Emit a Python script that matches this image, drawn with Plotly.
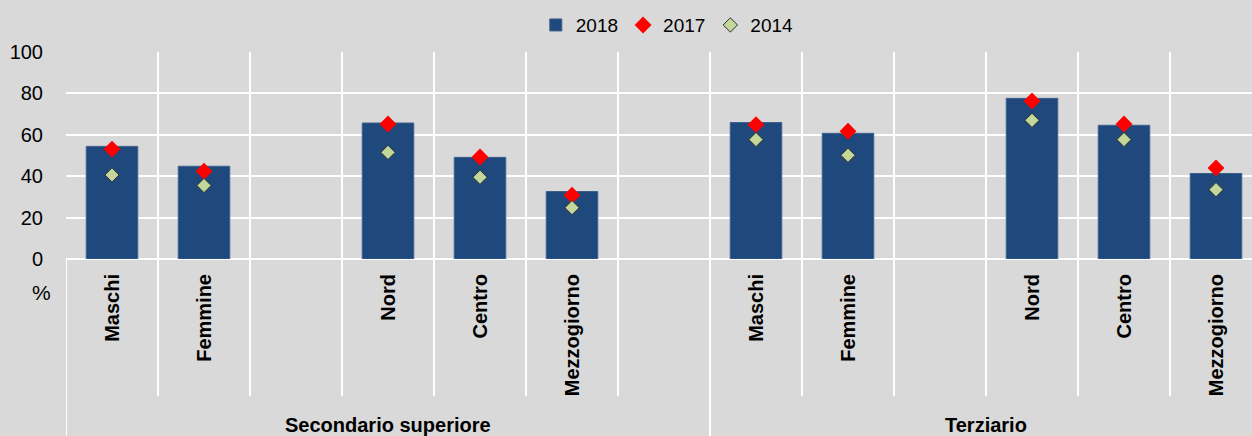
import plotly.graph_objects as go

# ---- data ----
categories = ["Maschi", "Femmine", "", "Nord", "Centro", "Mezzogiorno", "",
              "Maschi", "Femmine", "", "Nord", "Centro", "Mezzogiorno"]
groups = ["Secondario superiore"] * 7 + ["Terziario"] * 6
v2018 = [54.4, 44.8, None, 65.7, 49.1, 32.6, None, 65.9, 60.7, None, 77.6, 64.6, 41.3]
v2017 = [53.1, 42.4, None, 65.2, 49.3, 30.8, None, 64.9, 61.7, None, 76.3, 65.2, 44.0]
v2014 = [40.6, 35.5, None, 51.5, 39.5, 24.8, None, 57.7, 50.1, None, 67.0, 57.7, 33.5]
y_ticks = [0, 20, 40, 60, 80, 100]

x_pos = list(range(len(categories)))
boundaries = [i - 0.5 for i in range(len(categories) + 1)]

NARROW = "Liberation Sans Narrow, Arial Narrow, Liberation Sans, Arial, sans-serif"
SANS = "Liberation Sans, Arial, sans-serif"
BG = "#d9d9d9"

fig = go.Figure()
fig.add_trace(go.Bar(x=x_pos, y=v2018, name="2018", width=0.56,
                     marker=dict(color="#1f497d", line=dict(color="#3d5f8c", width=1))))
fig.add_trace(go.Scatter(x=x_pos, y=v2017, name="2017", mode="markers",
                         marker=dict(symbol="diamond", size=13, color="#ff0000",
                                     line=dict(width=0))))
fig.add_trace(go.Scatter(x=x_pos, y=v2014, name="2014", mode="markers",
                         marker=dict(symbol="diamond", size=11, color="#c4d79b",
                                     line=dict(color="#2b2b2b", width=1))))

label_pos = [p for p, c in zip(x_pos, categories) if c]
label_txt = [c for c in categories if c]

fig.update_xaxes(
    range=[-0.5, -0.5 + 1186 / 92],
    tickmode="array", tickvals=label_pos, ticktext=label_txt,
    tickangle=-90, ticks="", showgrid=False, zeroline=False,
    tickfont=dict(family=SANS, size=20, color="black", weight="bold"),
    ticklabelstandoff=10,
    minor=dict(tickmode="array", tickvals=boundaries, showgrid=True,
               gridcolor="white", gridwidth=2, ticks=""),
    automargin=False, fixedrange=True,
)
fig.update_yaxes(
    range=[0, 100], tickmode="array", tickvals=y_ticks,
    showgrid=True, gridcolor="white", gridwidth=2,
    zeroline=True, zerolinecolor="white", zerolinewidth=2,
    tickfont=dict(family=NARROW, size=20, color="black"),
    ticks="", ticklabelstandoff=22, automargin=False, fixedrange=True,
)

# separators below the axis
shapes = []
group_edges = [-0.5] + [i + 0.5 for i in range(len(groups) - 1) if groups[i] != groups[i + 1]]
for b in boundaries:
    bottom = -0.86 if b in group_edges else -0.662
    shapes.append(dict(type="line", xref="x", yref="paper", x0=b, x1=b, y0=0, y1=bottom,
                       line=dict(color="white", width=2)))
fig.update_layout(shapes=shapes)

annotations = [dict(text="%", xref="paper", yref="paper", x=-0.021, y=-0.164,
                    xanchor="center", yanchor="middle", showarrow=False,
                    font=dict(family=NARROW, size=21, color="black"))]
for g in dict.fromkeys(groups):
    idx = [i for i, gg in enumerate(groups) if gg == g]
    annotations.append(dict(text=g, xref="x", yref="paper", x=sum(idx) / len(idx), y=-0.802,
                            xanchor="center", yanchor="middle", showarrow=False,
                            font=dict(family=NARROW, size=20, color="black", weight="bold")))
fig.update_layout(annotations=annotations)

fig.update_layout(
    width=1252, height=436,
    margin=dict(l=66, r=0, t=52, b=177, autoexpand=False),
    paper_bgcolor=BG, plot_bgcolor=BG,
    showlegend=True,
    legend=dict(orientation="h", x=0.507, xanchor="center", y=1.13, yanchor="middle",
                font=dict(family=NARROW, size=19, color="black"),
                bgcolor="rgba(0,0,0,0)", itemwidth=30, tracegroupgap=0),
)

fig.write_html("out.html",
               config={"displayModeBar": False},
               post_script="document.body.style.margin='0';document.body.style.overflow='hidden';")
